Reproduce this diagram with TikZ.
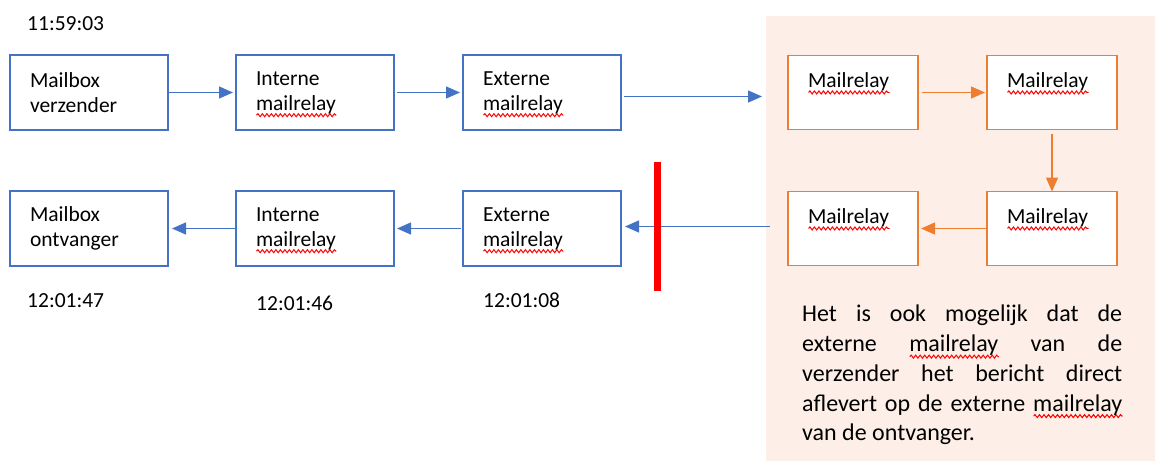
\documentclass[tikz,border=0pt]{standalone}
\usepackage{fontspec}
\setmainfont{Carlito}
\usepackage{tikz}
\usetikzlibrary{calc,positioning,arrows.meta,decorations.pathmorphing}
\definecolor{wblue}{HTML}{4472C4}
\definecolor{worange}{HTML}{ED7D31}
\definecolor{wpeach}{HTML}{FDEFE7}
% red spell-check wave under a word
\newlength\spellw
\newcommand\spell[1]{\settowidth\spellw{#1}\smash{\rlap{\tikz[baseline=0pt]\draw[draw=red, line width=1pt,
  decorate, decoration={snake, amplitude=1.5pt, segment length=4.5pt}] (0pt,-5pt) -- (\spellw,-5pt);}}#1}
\tikzset{
  line/.style={-{Triangle[length=14pt,width=12pt]}, line width=1.3pt},
  bline/.style={line, draw=wblue},
  oline/.style={line, draw=worange},
  box/.style={draw, line width=1.3pt, fill=white, align=left, inner xsep=20pt, inner ysep=0pt,
    outer sep=0pt, font=\fontsize{21.5}{25}\selectfont},
  bbox/.style={box, draw=wblue, text width=118pt, minimum height=75pt},
  obox/.style={box, draw=worange, text width=90pt, minimum height=74pt},
  stamp/.style={anchor=base west, inner sep=0pt, font=\fontsize{21.5}{25}\selectfont}
}

\begin{document}
\begin{tikzpicture}[x=1pt, y=-1pt, node distance=68pt]
  \useasboundingbox (0,0) rectangle (1155,461);
  \fill[wpeach] (766,16) rectangle (1155,461);

  % sender side
  \node[bbox, anchor=north west] (mbxsend) at (10,55) {Mailbox\\verzender};
  \node[bbox, right=of mbxsend] (intsend) {Interne\\\spell{mailrelay}};
  \node[bbox, right=69pt of intsend] (extsend) {Externe\\\spell{mailrelay}};

  % relays in between
  \node[obox, right=167pt of extsend] (relA) {\spell{Mailrelay}\\\mbox{}};
  \node[obox, right=69pt of relA] (relB) {\spell{Mailrelay}\\\mbox{}};
  \node[obox, below=62pt of relB] (relC) {\spell{Mailrelay}\\\mbox{}};
  \node[obox, left=69pt of relC] (relD) {\spell{Mailrelay}\\\mbox{}};

  % receiver side
  \node[bbox, below=61pt of extsend] (extrecv) {Externe\\\spell{mailrelay}};
  \node[bbox, left=69pt of extrecv] (intrecv) {Interne\\\spell{mailrelay}};
  \node[bbox, left=of intrecv] (mbxrecv) {Mailbox\\ontvanger};

  \coordinate (inA) at ($(relA.west)+(-26pt,-4pt)$);
  \coordinate (outD) at ($(relD.west)+(-18pt,2pt)$);

  \draw[bline, shorten >=3pt] (mbxsend) -- (intsend);
  \draw[bline, shorten <=3pt, shorten >=3pt] (intsend) -- (extsend);
  \draw[bline, shorten <=3pt] (extsend.east |- inA) -- (inA);
  \draw[oline, shorten <=4pt, shorten >=2pt] (relA) -- (relB);
  \draw[oline, shorten <=4pt] (relB) -- (relC);
  \draw[oline, shorten >=3pt] (relC) -- (relD);
  \draw[bline, shorten >=4pt] (outD) -- (extrecv.east |- outD);
  \draw[bline, shorten <=2pt, shorten >=3pt] (extrecv) -- (intrecv);
  \draw[bline, shorten >=4pt] (intrecv) -- (mbxrecv);

  \draw[red, line width=7pt] (657,162) -- (657,291);

  \node[stamp] (tsend) at (27,30) {11:59:03};
  \node[stamp] (trecv) at (27,307) {12:01:47};
  \node[stamp] (tint) at (256,310) {12:01:46};
  \node[stamp] (text) at (483,307) {12:01:08};

  \node[anchor=north west, inner sep=0pt, text width=320pt, align=justify,
    font=\fontsize{24}{29.75}\selectfont] (note) at (802,305)
    {\tolerance=10000 Het is ook mogelijk dat de\linebreak externe \spell{mailrelay} van de\linebreak
     verzender het bericht direct\linebreak aflevert op de externe \spell{mailrelay}\linebreak van de ontvanger.};
\end{tikzpicture}
\end{document}
